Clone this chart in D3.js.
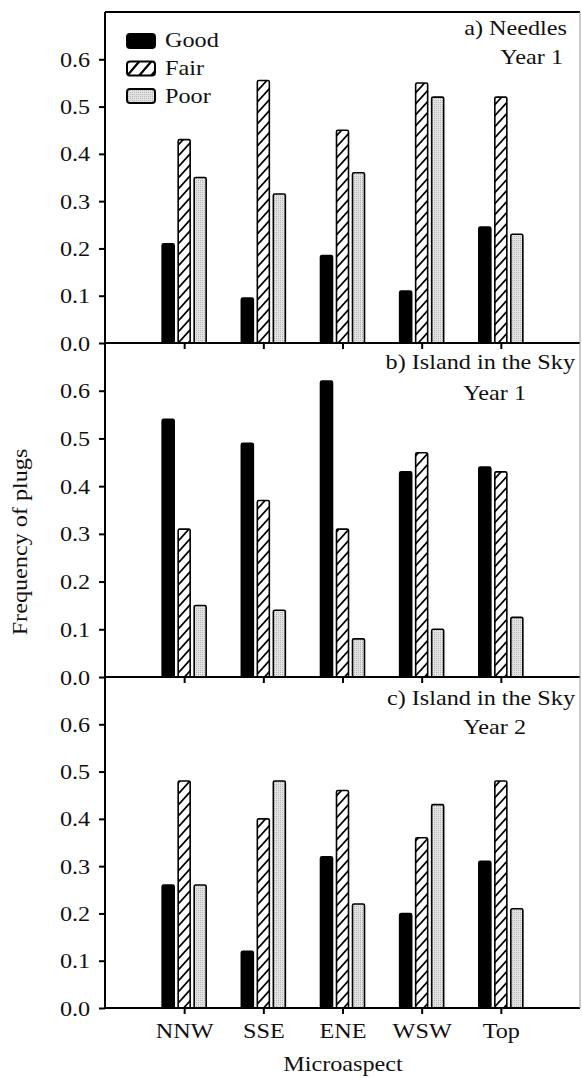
<!DOCTYPE html>
<html>
<head>
<meta charset="utf-8">
<script src="https://cdn.jsdelivr.net/npm/d3@7"></script>
<style>
  body { margin: 0; background: #fff; }
  svg text { font-family: "Liberation Serif", "Times New Roman", Times, serif; fill: #111; }
</style>
</head>
<body>
<div id="chart-area"></div>
<script>
const W = 582, H = 1078
const LEFT = 105, RIGHT = 580
const FS = 22, SX = 1.1   // font size and horizontal stretch of the original type

// data
const categories = ["NNW", "SSE", "ENE", "WSW", "Top"]
const conditions = ["Good", "Fair", "Poor"]
const yTicks = [0, 0.1, 0.2, 0.3, 0.4, 0.5, 0.6]

const needlesY1Good = [0.21, 0.095, 0.185, 0.11, 0.245]
const needlesY1Fair = [0.43, 0.555, 0.45, 0.55, 0.52]
const needlesY1Poor = [0.35, 0.315, 0.36, 0.52, 0.23]

const islandY1Good = [0.54, 0.49, 0.62, 0.43, 0.44]
const islandY1Fair = [0.31, 0.37, 0.31, 0.47, 0.43]
const islandY1Poor = [0.15, 0.14, 0.08, 0.10, 0.125]

const islandY2Good = [0.26, 0.12, 0.32, 0.20, 0.31]
const islandY2Fair = [0.48, 0.40, 0.46, 0.36, 0.48]
const islandY2Poor = [0.26, 0.48, 0.22, 0.43, 0.21]

const panels = [
  { title: ["a) Needles", "Year 1"], top: 12, bottom: 343,
    series: [needlesY1Good, needlesY1Fair, needlesY1Poor],
    tx: [567, 563], ty: [35, 64] },
  { title: ["b) Island in the Sky", "Year 1"], top: 343, bottom: 677,
    series: [islandY1Good, islandY1Fair, islandY1Poor],
    tx: [575, 526], ty: [369, 400] },
  { title: ["c) Island in the Sky", "Year 2"], top: 677, bottom: 1008,
    series: [islandY2Good, islandY2Fair, islandY2Poor],
    tx: [575, 526], ty: [705, 734] }
]

const svg = d3.select("#chart-area").append("svg")
  .attr("width", W)
  .attr("height", H)

// helper: stretched text placed at (x, y)
function label(parent, x, y, str, anchor, rot) {
  return parent.append("text")
    .attr("transform", `translate(${x},${y})` + (rot ? ` rotate(${rot})` : "") + ` scale(${SX},1)`)
    .attr("text-anchor", anchor || "start")
    .attr("font-size", FS)
    .text(str)
}

// patterns
const defs = svg.append("defs")
defs.append("pattern")
  .attr("id", "hatch")
  .attr("patternUnits", "userSpaceOnUse")
  .attr("width", 10).attr("height", 11)
  .call(p => {
    p.append("rect").attr("width", 10).attr("height", 11).attr("fill", "#fff")
    p.append("path")
      .attr("d", "M-1,12.1 L11,-1.1 M-11,12.1 L1,-1.1 M9,12.1 L21,-1.1")
      .attr("stroke", "#000").attr("stroke-width", 1.8)
  })
defs.append("pattern")
  .attr("id", "hatchBig")
  .attr("patternUnits", "userSpaceOnUse")
  .attr("width", 12).attr("height", 14)
  .call(p => {
    p.append("rect").attr("width", 12).attr("height", 14).attr("fill", "#fff")
    p.append("path")
      .attr("d", "M-1,15.2 L13,-1.2 M-13,15.2 L1,-1.2 M11,15.2 L25,-1.2")
      .attr("stroke", "#000").attr("stroke-width", 2.2)
  })
defs.append("pattern")
  .attr("id", "stipple")
  .attr("patternUnits", "userSpaceOnUse")
  .attr("width", 2).attr("height", 2)
  .call(p => {
    p.append("rect").attr("width", 2).attr("height", 2).attr("fill", "#e2e2e2")
    p.append("rect").attr("width", 1).attr("height", 1).attr("fill", "#b8b8b8")
  })

const fills = ["#000", "url(#hatch)", "url(#stipple)"]
const legendFills = ["#000", "url(#hatchBig)", "url(#stipple)"]
const offsets = [-16, 0, 16]
const BAR_W = 12

// x scale: categories at 1..5 of [0, 6]
const x = d3.scaleLinear().domain([0, 6]).range([LEFT, RIGHT])

panels.forEach((p, pi) => {
  const y = d3.scaleLinear().domain([0, 0.7]).range([p.bottom, p.top])
  const g = svg.append("g")

  // bars
  p.series.forEach((vals, si) => {
    g.selectAll(".bar" + si)
      .data(vals)
      .enter().append("rect")
      .attr("x", (d, i) => x(i + 1) + offsets[si] - BAR_W / 2)
      .attr("y", d => y(d))
      .attr("width", BAR_W)
      .attr("height", d => y(0) - y(d))
      .attr("rx", 1.5)
      .attr("fill", fills[si])
      .attr("stroke", "#000")
      .attr("stroke-width", 1.6)
  })

  // y axis
  const yAxis = d3.axisLeft(y).tickValues(yTicks).tickFormat(d3.format(".1f"))
    .tickSize(6).tickPadding(7.5)
  g.append("g")
    .attr("transform", `translate(${LEFT},0)`)
    .call(yAxis)
    .call(a => a.select(".domain").remove())
    .call(a => a.selectAll("line").attr("stroke", "#000").attr("stroke-width", 2))
    .call(a => a.selectAll("text")
      .attr("font-size", FS).attr("fill", "#111")
      .attr("transform", `scale(${SX},1)`))

  // x ticks (bottom of each panel)
  const xAxis = d3.axisBottom(x).tickValues([1, 2, 3, 4, 5])
    .tickFormat((d, i) => categories[i]).tickSize(6).tickPadding(8)
  const xa = g.append("g")
    .attr("transform", `translate(0,${p.bottom})`)
    .call(xAxis)
  xa.select(".domain").remove()
  xa.selectAll("line").attr("stroke", "#000").attr("stroke-width", 2)
  xa.selectAll("text")
    .attr("font-size", FS).attr("fill", "#111")
    .attr("transform", `scale(${SX},1)`)
  if (pi < panels.length - 1) xa.selectAll("text").remove()

  // baseline / panel separator
  g.append("line")
    .attr("x1", LEFT).attr("x2", RIGHT)
    .attr("y1", p.bottom).attr("y2", p.bottom)
    .attr("stroke", "#000").attr("stroke-width", 2)

  // panel title
  p.title.forEach((t, i) => label(g, p.tx[i], p.ty[i], t, "end"))
})

// frame
svg.append("line")
  .attr("x1", LEFT).attr("x2", LEFT).attr("y1", 12).attr("y2", 1008)
  .attr("stroke", "#000").attr("stroke-width", 2)
svg.append("line")
  .attr("x1", LEFT).attr("x2", RIGHT).attr("y1", 12).attr("y2", 12)
  .attr("stroke", "#000").attr("stroke-width", 2)
svg.append("line")
  .attr("x1", RIGHT).attr("x2", RIGHT).attr("y1", 12).attr("y2", 1008)
  .attr("stroke", "#999").attr("stroke-width", 1)

// legend
const legend = svg.append("g")
conditions.forEach((c, i) => {
  legend.append("rect")
    .attr("x", 127).attr("y", 34 + i * 27.5)
    .attr("width", 28).attr("height", 14)
    .attr("rx", 3)
    .attr("fill", legendFills[i])
    .attr("stroke", "#000").attr("stroke-width", 2)
  label(legend, 165, 47 + i * 28, c)
})

// axis titles
label(svg, 27, 542, "Frequency of plugs", "middle", -90)
label(svg, 343, 1071, "Microaspect", "middle")
</script>
</body>
</html>
